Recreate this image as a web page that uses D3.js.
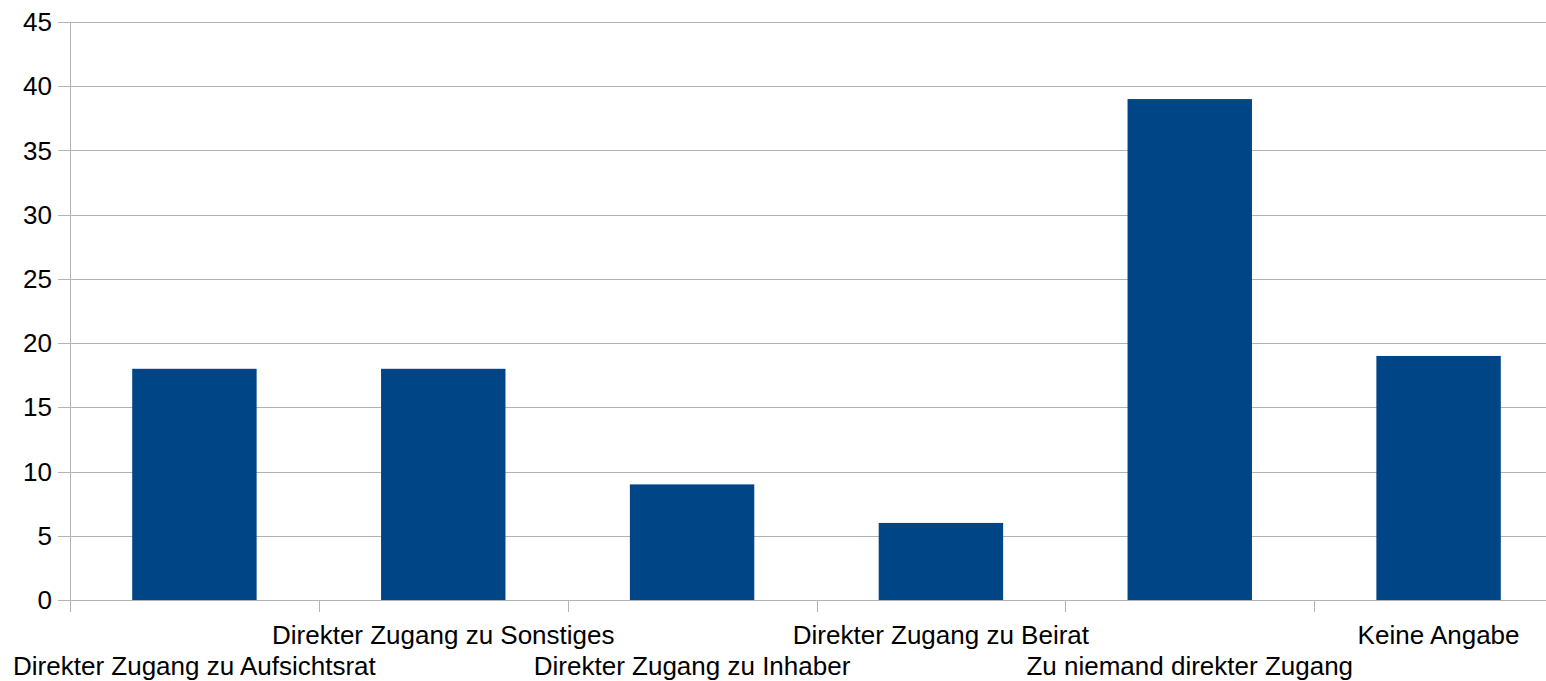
<!DOCTYPE html>
<html>
<head>
<meta charset="utf-8">
<script src="https://cdn.jsdelivr.net/npm/d3@7"></script>
<style>
  body { margin: 0; background: #fff; }
  text { font-family: "Liberation Sans", Arial, sans-serif; fill: #000; }
</style>
</head>
<body>
<div id="viz-container"></div>
<script>
let categories = ["Direkter Zugang zu Aufsichtsrat", "Direkter Zugang zu Sonstiges", "Direkter Zugang zu Inhaber",
    "Direkter Zugang zu Beirat", "Zu niemand direkter Zugang", "Keine Angabe"];
let counts = [18, 18, 9, 6, 39, 19];
let yTicks = [0, 5, 10, 15, 20, 25, 30, 35, 40, 45];

let w = 1546, h = 681;
let viz = d3.select("#viz-container").append("svg")
    .attr("width", w).attr("height", h);

let plotLeft = 70, plotRight = 1563, plotTop = 22, plotBottom = 600;

let xScale = d3.scaleBand().domain(categories).range([plotLeft, plotRight])
    .paddingInner(0.5).paddingOuter(0.25);
let yScale = d3.scaleLinear().domain([0, 45]).range([plotBottom, plotTop]);

// gridlines
viz.selectAll(".grid").data(yTicks).enter()
    .append("line")
    .attr("x1", plotLeft - 12).attr("x2", w)
    .attr("y1", d => Math.round(yScale(d)) + 0.5)
    .attr("y2", d => Math.round(yScale(d)) + 0.5)
    .attr("stroke", "#b3b3b3").attr("stroke-width", 1);

// y axis line
viz.append("line")
    .attr("x1", plotLeft + 0.5).attr("x2", plotLeft + 0.5)
    .attr("y1", plotTop).attr("y2", plotBottom + 12)
    .attr("stroke", "#b3b3b3");

// y labels
viz.selectAll(".ylab").data(yTicks).enter()
    .append("text")
    .attr("x", 52)
    .attr("y", d => yScale(d))
    .attr("dy", "0.35em")
    .attr("text-anchor", "end")
    .style("font-size", "26px")
    .text(d => d);

// x ticks between categories
let step = xScale.step();
let tickXs = d3.range(categories.length).map(i => plotLeft + i * step);
viz.selectAll(".xtick").data(tickXs).enter()
    .append("line")
    .attr("x1", d => Math.round(d) + 0.5).attr("x2", d => Math.round(d) + 0.5)
    .attr("y1", plotBottom).attr("y2", plotBottom + 12)
    .attr("stroke", "#b3b3b3");

// bars
viz.selectAll(".bar").data(counts).enter()
    .append("rect")
    .attr("x", (d, i) => xScale(categories[i]))
    .attr("width", xScale.bandwidth())
    .attr("y", d => yScale(d))
    .attr("height", d => yScale(0) - yScale(d))
    .attr("fill", "#004586");

// category labels, staggered
viz.selectAll(".xlab").data(categories).enter()
    .append("text")
    .attr("x", d => xScale(d) + xScale.bandwidth() / 2)
    .attr("y", (d, i) => i % 2 === 0 ? 675 : 644)
    .attr("text-anchor", "middle")
    .style("font-size", "26px")
    .text(d => d);
</script>
</body>
</html>
